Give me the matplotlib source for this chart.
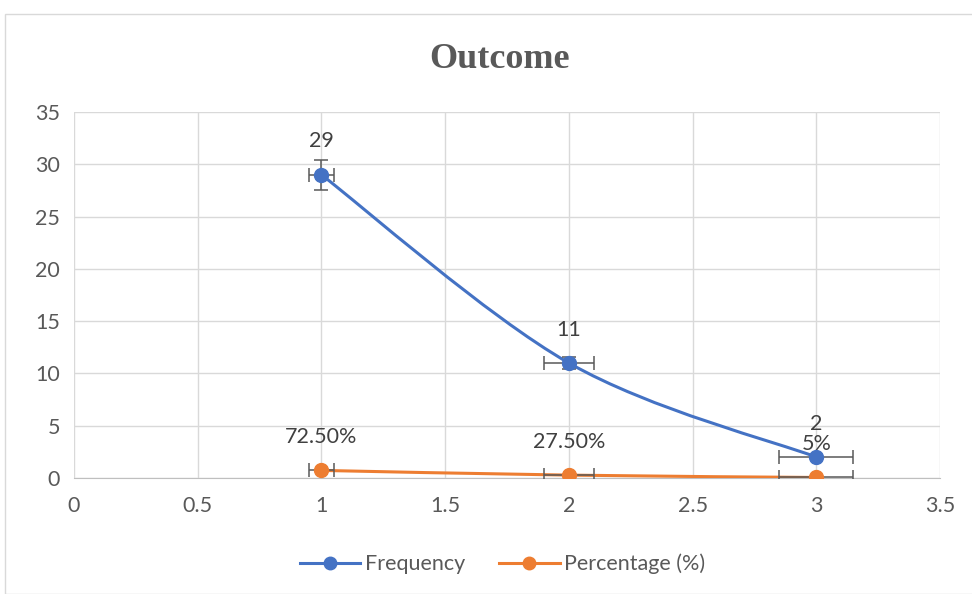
import numpy as np
import matplotlib
matplotlib.use('Agg')
import matplotlib.pyplot as plt
from matplotlib.path import Path
from matplotlib.patches import PathPatch, Rectangle
from matplotlib.lines import Line2D

x_vals = [1, 2, 3]
frequency = [29, 11, 2]
percentage = [0.725, 0.275, 0.05]
freq_labels = ['29', '11', '2']
pct_labels = ['72.50%', '27.50%', '5%']
series_names = ['Frequency', 'Percentage (%)']

BLUE = '#4472C4'
ORANGE = '#ED7D31'
TXT = '#595959'
ERR = '#595959'
FS = 15.5


def smooth_path(xs, ys):
    # Excel-style smoothed line: cubic bezier through the points
    pts = np.column_stack([xs, ys]).astype(float)
    n = len(pts)
    verts = [pts[0]]
    codes = [Path.MOVETO]
    for i in range(n - 1):
        p0 = pts[i - 1] if i > 0 else pts[i]
        p1 = pts[i]
        p2 = pts[i + 1]
        p3 = pts[i + 2] if i + 2 < n else pts[i + 1]
        c1 = p1 + (p2 - p0) / 6.0
        c2 = p2 - (p3 - p1) / 6.0
        verts += [c1, c2, p2]
        codes += [Path.CURVE4] * 3
    return Path(verts, codes)


plt.rcParams['font.family'] = ['Lato', 'DejaVu Sans']

fig = plt.figure(figsize=(9.72, 5.94), dpi=100)
ax = fig.add_axes([0.0761, 0.1953, 0.891, 0.6161])

fig.patches.append(Rectangle((5 / 972, 0), 1, 1 - 14 / 594, transform=fig.transFigure,
                             fill=False, edgecolor='#d9d9d9', lw=1.0))

for ys, col in [(frequency, BLUE), (percentage, ORANGE)]:
    ax.add_patch(PathPatch(smooth_path(x_vals, ys), facecolor='none', edgecolor=col,
                           lw=2.2, transform=ax.transData, zorder=3, capstyle='round'))
    xerr = [0.05 * x for x in x_vals]
    yerr = [0.05 * y for y in ys]
    ax.errorbar(x_vals, ys, xerr=xerr, yerr=yerr, fmt='none', ecolor=ERR,
                elinewidth=1.1, capsize=5, capthick=1.1, zorder=4)
    ax.plot(x_vals, ys, 'o', color=col, markersize=10, zorder=5)

for ys, labels in [(frequency, freq_labels), (percentage, pct_labels)]:
    for x, y, lab in zip(x_vals, ys, labels):
        ax.annotate(lab, (x, y), xytext=(0, 24), textcoords='offset points',
                    ha='center', va='center', fontsize=FS, color='#404040')

ax.set_xlim(0, 3.5)
ax.set_ylim(0, 35)
ax.set_xticks(np.arange(0, 3.51, 0.5))
ax.set_xticklabels(['0', '0.5', '1', '1.5', '2', '2.5', '3', '3.5'])
ax.set_yticks(np.arange(0, 36, 5))
ax.grid(True, color='#d9d9d9', lw=1.0)
ax.set_axisbelow(True)
for s in ['top', 'right', 'left']:
    ax.spines[s].set_visible(False)
ax.spines['bottom'].set_color('#bfbfbf')
ax.tick_params(axis='both', length=0, labelsize=FS, labelcolor=TXT)
ax.tick_params(axis='x', pad=13)
ax.tick_params(axis='y', pad=10)

fig.text(0.514, 1 - 59 / 594, 'Outcome', ha='center', va='center', fontsize=26,
         fontweight='bold', family='Liberation Serif', color='#595959')

handles = [Line2D([0], [0], color=BLUE, lw=2.2, marker='o', markersize=9),
           Line2D([0], [0], color=ORANGE, lw=2.2, marker='o', markersize=9)]
fig.legend(handles, series_names, loc='center', bbox_to_anchor=(0.517, 1 - 564 / 594),
           ncol=2, frameon=False, fontsize=FS, labelcolor=TXT, handlelength=2.8,
           handletextpad=0.2, columnspacing=1.6)

fig.savefig('out.png', dpi=100)
